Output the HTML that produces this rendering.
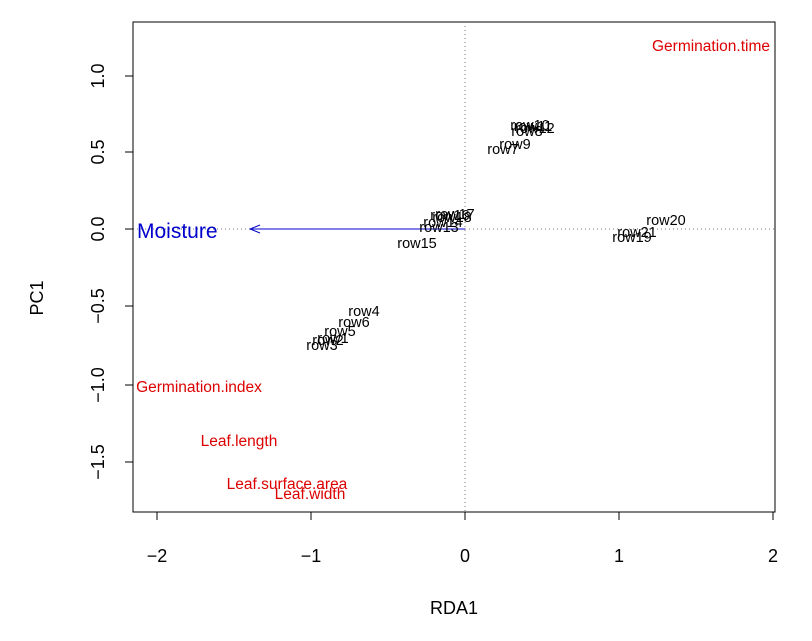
<!DOCTYPE html>
<html><head><style>body{margin:0;background:#fff}svg{display:block}text{font-family:"Liberation Sans",sans-serif}</style></head><body>
<svg width="812" height="641" xmlns="http://www.w3.org/2000/svg">
<rect x="133" y="22" width="642" height="490" fill="none" stroke="#000" stroke-width="1"/>
<line x1="465" y1="22" x2="465" y2="512" stroke="#777" stroke-dasharray="1,3"/>
<line x1="133" y1="229" x2="775" y2="229" stroke="#777" stroke-dasharray="1,3"/>
<g stroke="#000">
<line x1="157" y1="512" x2="773" y2="512"/>
<line x1="157" y1="512" x2="157" y2="520"/><line x1="311" y1="512" x2="311" y2="520"/><line x1="465" y1="512" x2="465" y2="520"/><line x1="619" y1="512" x2="619" y2="520"/><line x1="773" y1="512" x2="773" y2="520"/>
<line x1="133" y1="76" x2="133" y2="462"/>
<line x1="125" y1="76" x2="133" y2="76"/><line x1="125" y1="152" x2="133" y2="152"/><line x1="125" y1="229" x2="133" y2="229"/><line x1="125" y1="306" x2="133" y2="306"/><line x1="125" y1="385" x2="133" y2="385"/><line x1="125" y1="462" x2="133" y2="462"/>
</g>
<g font-size="18" text-anchor="middle" fill="#000">
<text x="157" y="562">−2</text><text x="311" y="562">−1</text><text x="465" y="562">0</text><text x="619" y="562">1</text><text x="773" y="562">2</text>
<text transform="translate(104,76) rotate(-90)">1.0</text>
<text transform="translate(104,152) rotate(-90)">0.5</text>
<text transform="translate(104,229) rotate(-90)">0.0</text>
<text transform="translate(104,306) rotate(-90)">−0.5</text>
<text transform="translate(104,385) rotate(-90)">−1.0</text>
<text transform="translate(104,462) rotate(-90)">−1.5</text>
<text x="454" y="614">RDA1</text>
<text transform="translate(43,298) rotate(-90)">PC1</text>
</g>
<g stroke="#00c" fill="none"><line x1="465" y1="229" x2="252" y2="229"/><polyline points="260,225 250,229 260,233"/></g>
<text x="137" y="238" font-size="21" fill="#00c">Moisture</text>
<g font-size="14.5" text-anchor="middle" fill="#000">
<text x="530" y="130">row10</text><text x="533" y="131">row11</text><text x="535" y="133">row12</text><text x="527" y="136">row8</text>
<text x="515" y="149">row9</text><text x="503" y="154">row7</text>
<text x="455" y="219">row17</text><text x="450" y="220">row16</text><text x="452" y="222">row18</text>
<text x="443" y="227">row14</text><text x="439" y="232">row13</text><text x="417" y="248">row15</text>
<text x="666" y="225">row20</text><text x="637" y="237">row21</text><text x="632" y="242">row19</text>
<text x="364" y="316">row4</text><text x="354" y="327">row6</text><text x="340" y="336">row5</text>
<text x="333" y="343">row1</text><text x="328" y="345">row2</text><text x="322" y="350">row3</text>
</g>
<g font-size="15.5" text-anchor="middle" fill="#d00">
<text x="711" y="51">Germination.time</text>
<text x="199" y="392">Germination.index</text>
<text x="239" y="446">Leaf.length</text>
<text x="287" y="489">Leaf.surface.area</text>
<text x="310" y="499">Leaf.width</text>
</g>
</svg>
</body></html>
